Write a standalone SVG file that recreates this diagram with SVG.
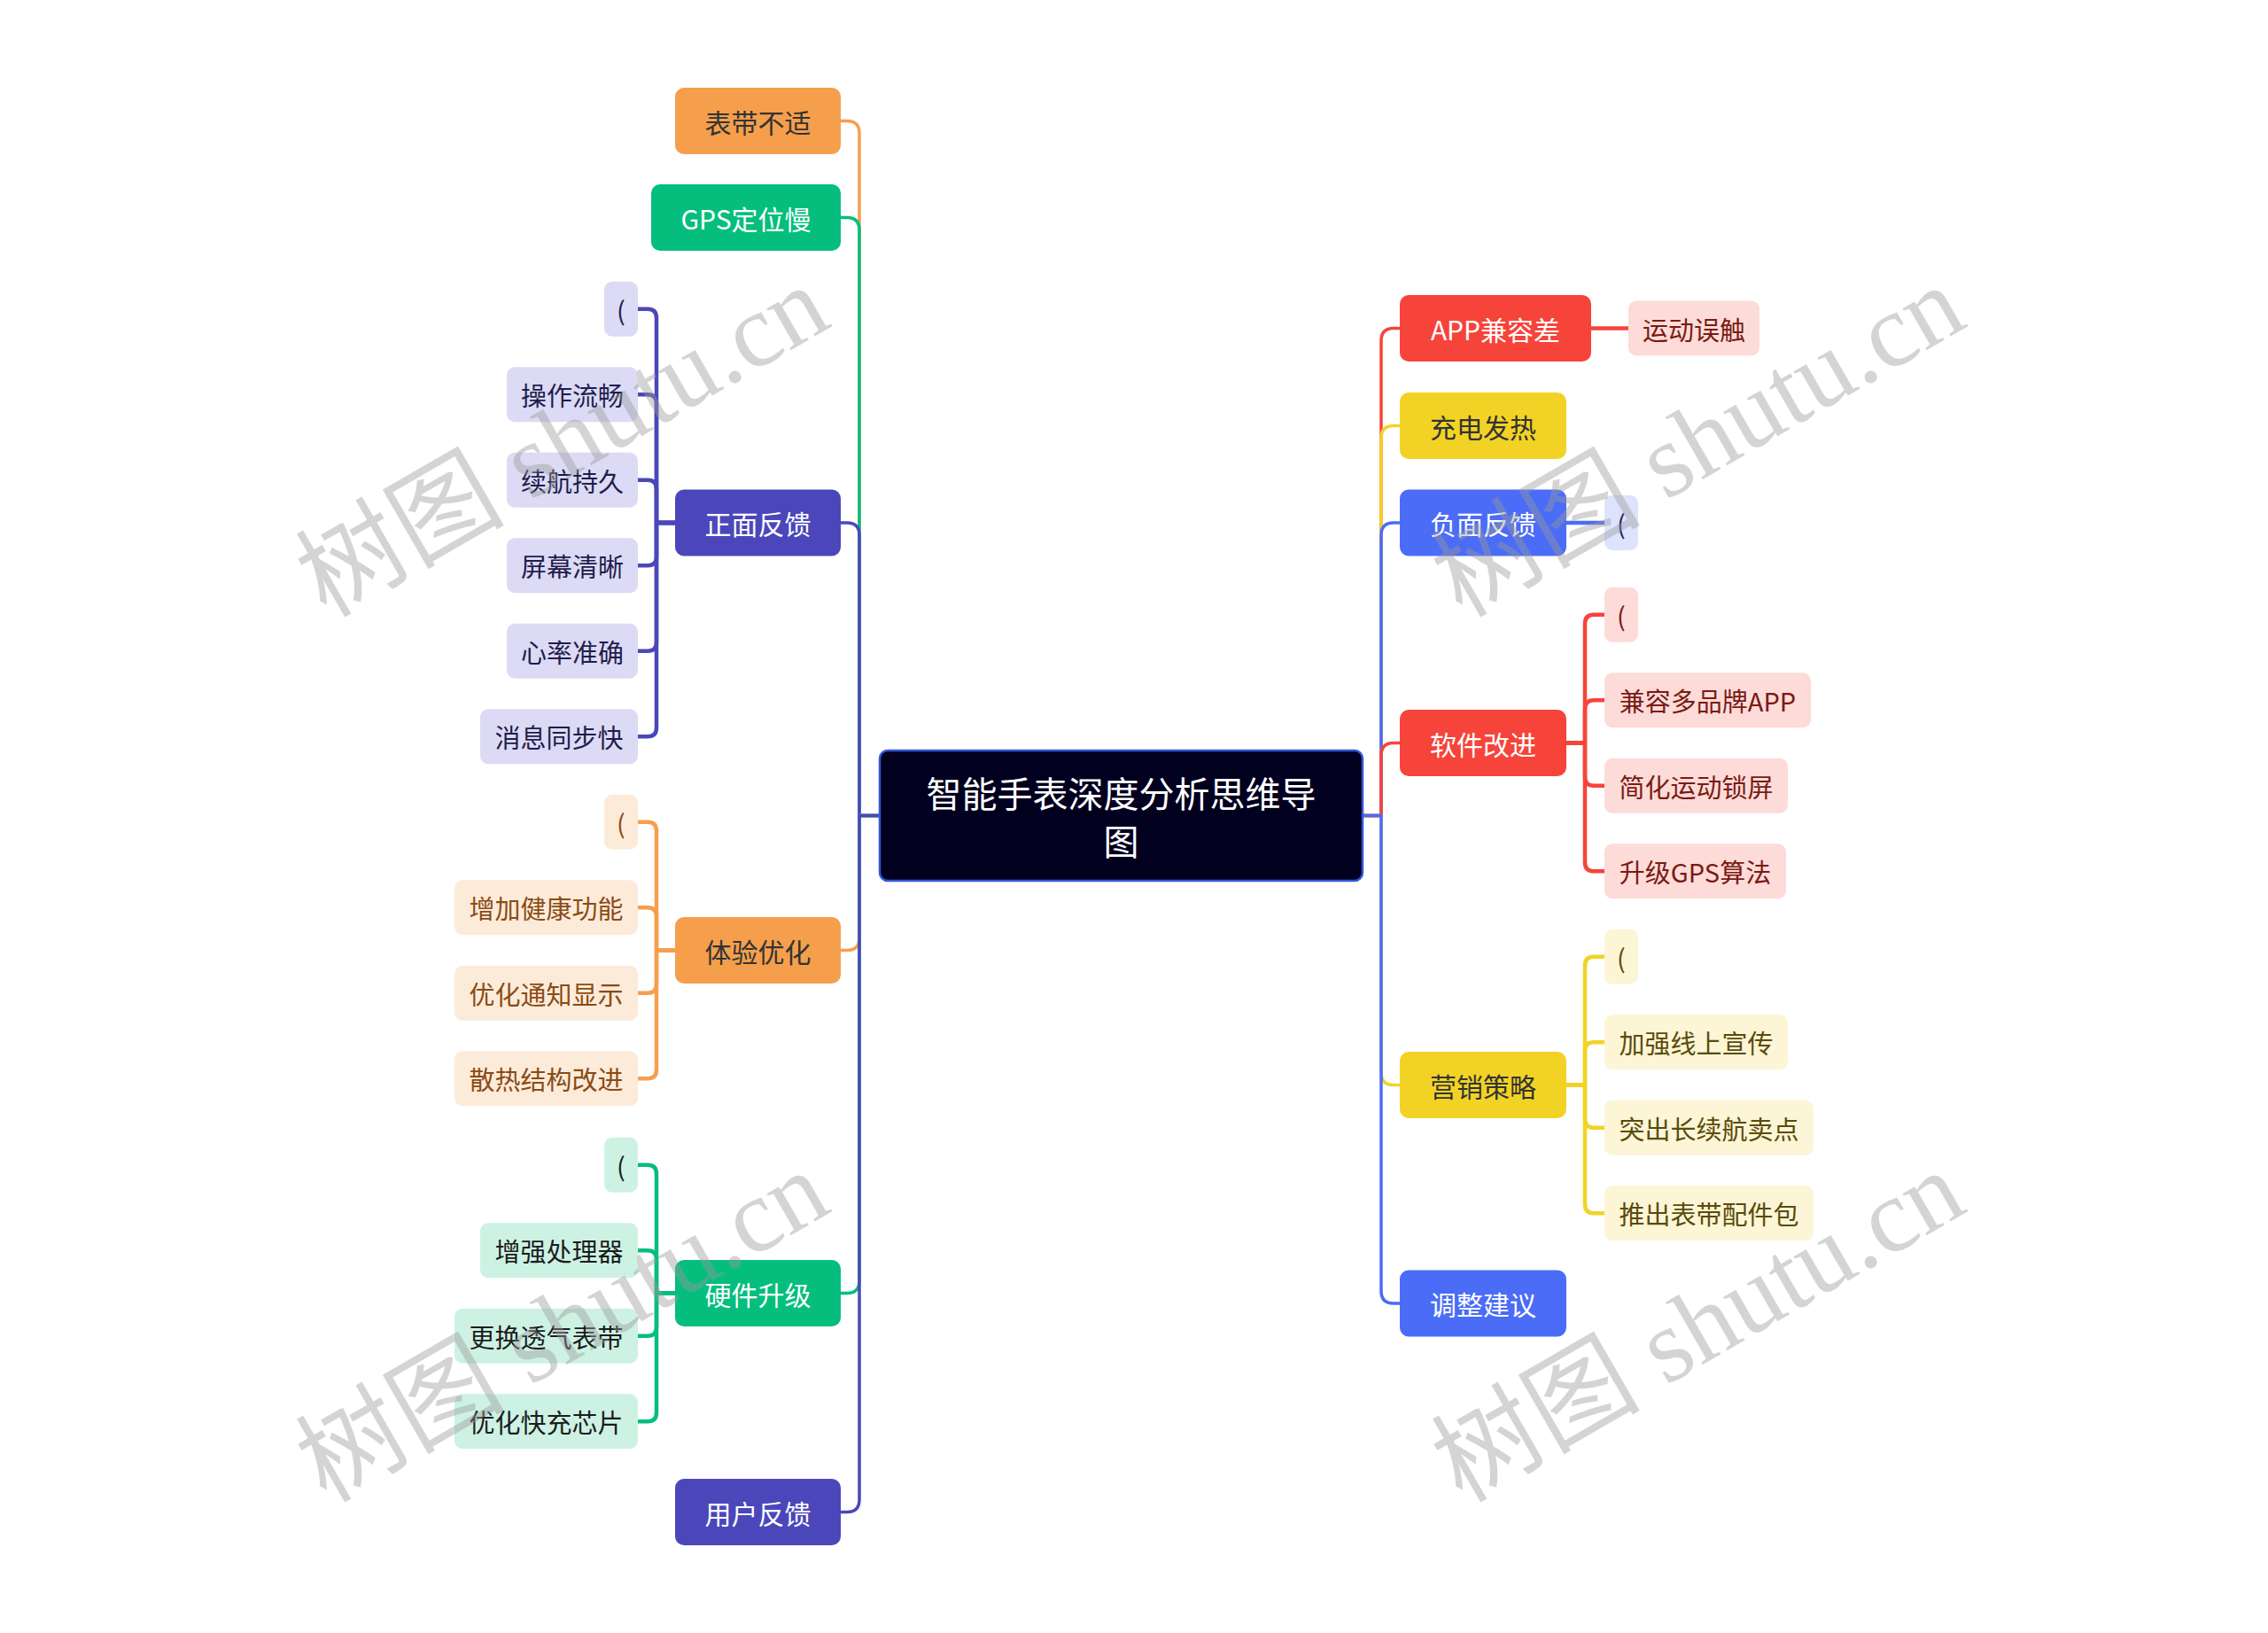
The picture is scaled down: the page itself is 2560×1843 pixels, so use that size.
<svg xmlns="http://www.w3.org/2000/svg" width="2560" height="1843" viewBox="0 0 2560 1843">
<style>
text{font-family:"Noto Sans CJK SC","Noto Sans",sans-serif;dominant-baseline:central;text-anchor:middle}
.t1{font-size:30px}
.t2{font-size:29px}
.tc{font-size:40px;fill:#ffffff}
.w{fill:#ffffff}
.d{fill:#333333}
.c{fill:none;stroke-width:3.5;stroke-linecap:round;stroke-linejoin:round}
.b{fill:none;stroke-width:4.5;stroke-linecap:round;stroke-linejoin:round}
.sO{stroke:#F59F4D}.sG{stroke:#05BE7D}.sP{stroke:#4B47BB}.sR{stroke:#F6443A}.sY{stroke:#F2D325}.sB{stroke:#4A6CF7}
.fO{fill:#F59F4D}.fG{fill:#05BE7D}.fP{fill:#4B47BB}.fR{fill:#F6443A}.fY{fill:#F2D325}.fB{fill:#4A6CF7}
.lO{fill:#FDEBDA}.lG{fill:#CDF2E4}.lP{fill:#DCDAF4}.lR{fill:#FDDBD8}.lY{fill:#FCF5D6}.lB{fill:#DCE3FD}
.xO{fill:#8A4B14}.xG{fill:#1C1C1C}.xP{fill:#1F1D4C}.xR{fill:#7A1A14}.xY{fill:#5A4B0A}.xB{fill:#1F2A5C}
.wm{font-family:"Liberation Serif","Noto Sans CJK SC",serif;font-size:118px;fill:#9a9a9a;opacity:0.42;dominant-baseline:auto;text-anchor:start}
</style>
<rect width="2560" height="1843" fill="#ffffff"/>
<g id="connectors">
<path class="c sO" d="M993,920.5 H970 V150.5 Q970,136.5 956,136.5 H949"/>
<path class="c sG" d="M993,920.5 H970 V259.5 Q970,245.5 956,245.5 H949"/>
<path class="c sP" d="M993,920.5 H970 V604 Q970,590 956,590 H949"/>
<path class="c sO" d="M993,920.5 H970 V1058.5 Q970,1072.5 956,1072.5 H949"/>
<path class="c sG" d="M993,920.5 H970 V1445.5 Q970,1459.5 956,1459.5 H949"/>
<path class="c sP" d="M993,920.5 H970 V1692.5 Q970,1706.5 956,1706.5 H949"/>
<path class="c sR" d="M1538,920.5 H1559 V384.5 Q1559,370.5 1573,370.5 H1580"/>
<path class="c sY" d="M1538,920.5 H1559 V494.5 Q1559,480.5 1573,480.5 H1580"/>
<path class="c sB" d="M1538,920.5 H1559 V604 Q1559,590 1573,590 H1580"/>
<path class="c sR" d="M1538,920.5 H1559 V852.5 Q1559,838.5 1573,838.5 H1580"/>
<path class="c sY" d="M1538,920.5 H1559 V1210.5 Q1559,1224.5 1573,1224.5 H1580"/>
<path class="c sB" d="M1538,920.5 H1559 V1457 Q1559,1471 1573,1471 H1580"/>
<path class="b sP" d="M762,590 H741 V358.75 Q741,348.75 731,348.75 H720"/>
<path class="b sP" d="M762,590 H741 V455.25 Q741,445.25 731,445.25 H720"/>
<path class="b sP" d="M762,590 H741 V551.75 Q741,541.75 731,541.75 H720"/>
<path class="b sP" d="M762,590 H741 V628.25 Q741,638.25 731,638.25 H720"/>
<path class="b sP" d="M762,590 H741 V724.75 Q741,734.75 731,734.75 H720"/>
<path class="b sP" d="M762,590 H741 V821.25 Q741,831.25 731,831.25 H720"/>
<path class="b sO" d="M762,1072.5 H741 V937.75 Q741,927.75 731,927.75 H720"/>
<path class="b sO" d="M762,1072.5 H741 V1034.25 Q741,1024.25 731,1024.25 H720"/>
<path class="b sO" d="M762,1072.5 H741 V1110.75 Q741,1120.75 731,1120.75 H720"/>
<path class="b sO" d="M762,1072.5 H741 V1207.25 Q741,1217.25 731,1217.25 H720"/>
<path class="b sG" d="M762,1459.5 H741 V1324.75 Q741,1314.75 731,1314.75 H720"/>
<path class="b sG" d="M762,1459.5 H741 V1421.25 Q741,1411.25 731,1411.25 H720"/>
<path class="b sG" d="M762,1459.5 H741 V1497.75 Q741,1507.75 731,1507.75 H720"/>
<path class="b sG" d="M762,1459.5 H741 V1594.25 Q741,1604.25 731,1604.25 H720"/>
<path class="b sR" d="M1796,370.5 H1838"/>
<path class="b sB" d="M1768,590 H1811"/>
<path class="b sR" d="M1768,838.5 H1789 V703.75 Q1789,693.75 1799,693.75 H1811"/>
<path class="b sR" d="M1768,838.5 H1789 V800.25 Q1789,790.25 1799,790.25 H1811"/>
<path class="b sR" d="M1768,838.5 H1789 V876.75 Q1789,886.75 1799,886.75 H1811"/>
<path class="b sR" d="M1768,838.5 H1789 V973.25 Q1789,983.25 1799,983.25 H1811"/>
<path class="b sY" d="M1768,1224.5 H1789 V1089.75 Q1789,1079.75 1799,1079.75 H1811"/>
<path class="b sY" d="M1768,1224.5 H1789 V1186.25 Q1789,1176.25 1799,1176.25 H1811"/>
<path class="b sY" d="M1768,1224.5 H1789 V1262.75 Q1789,1272.75 1799,1272.75 H1811"/>
<path class="b sY" d="M1768,1224.5 H1789 V1359.25 Q1789,1369.25 1799,1369.25 H1811"/>
</g>
<g id="root"><rect x="993" y="847" width="545" height="147" rx="9" fill="#02001F" stroke="#3457D8" stroke-width="2.5"/><text class="tc" x="1265.5" y="894">智能手表深度分析思维导</text><text class="tc" x="1265.5" y="948">图</text></g>
<g id="n-biaodaibushi"><rect class="fO" x="762" y="99" width="187" height="75" rx="10"/><text class="t1 d" x="855.5" y="136.5">表带不适</text></g>
<g id="n-gps"><rect class="fG" x="735" y="208" width="214" height="75" rx="10"/><text class="t1 w" x="842" y="245.5">GPS定位慢</text></g>
<g id="n-zhengmian"><rect class="fP" x="762" y="552.5" width="187" height="75" rx="10"/><text class="t1 w" x="855.5" y="590">正面反馈</text></g>
<g id="n-tiyan"><rect class="fO" x="762" y="1035" width="187" height="75" rx="10"/><text class="t1 d" x="855.5" y="1072.5">体验优化</text></g>
<g id="n-yingjian"><rect class="fG" x="762" y="1422" width="187" height="75" rx="10"/><text class="t1 w" x="855.5" y="1459.5">硬件升级</text></g>
<g id="n-yonghu"><rect class="fP" x="762" y="1669" width="187" height="75" rx="10"/><text class="t1 w" x="855.5" y="1706.5">用户反馈</text></g>
<g id="n-zm-0"><rect class="lP" x="682" y="317.75" width="38" height="62" rx="9"/><text class="t2 xP" x="701" y="348.75">(</text></g>
<g id="n-zm-1"><rect class="lP" x="572" y="414.25" width="148" height="62" rx="9"/><text class="t2 xP" x="646" y="445.25">操作流畅</text></g>
<g id="n-zm-2"><rect class="lP" x="572" y="510.75" width="148" height="62" rx="9"/><text class="t2 xP" x="646" y="541.75">续航持久</text></g>
<g id="n-zm-3"><rect class="lP" x="572" y="607.25" width="148" height="62" rx="9"/><text class="t2 xP" x="646" y="638.25">屏幕清晰</text></g>
<g id="n-zm-4"><rect class="lP" x="572" y="703.75" width="148" height="62" rx="9"/><text class="t2 xP" x="646" y="734.75">心率准确</text></g>
<g id="n-zm-5"><rect class="lP" x="542" y="800.25" width="178" height="62" rx="9"/><text class="t2 xP" x="631" y="831.25">消息同步快</text></g>
<g id="n-ty-0"><rect class="lO" x="682" y="896.75" width="38" height="62" rx="9"/><text class="t2 xO" x="701" y="927.75">(</text></g>
<g id="n-ty-1"><rect class="lO" x="513" y="993.25" width="207" height="62" rx="9"/><text class="t2 xO" x="616.5" y="1024.25">增加健康功能</text></g>
<g id="n-ty-2"><rect class="lO" x="513" y="1089.75" width="207" height="62" rx="9"/><text class="t2 xO" x="616.5" y="1120.75">优化通知显示</text></g>
<g id="n-ty-3"><rect class="lO" x="513" y="1186.25" width="207" height="62" rx="9"/><text class="t2 xO" x="616.5" y="1217.25">散热结构改进</text></g>
<g id="n-yj-0"><rect class="lG" x="682" y="1283.75" width="38" height="62" rx="9"/><text class="t2 xG" x="701" y="1314.75">(</text></g>
<g id="n-yj-1"><rect class="lG" x="542" y="1380.25" width="178" height="62" rx="9"/><text class="t2 xG" x="631" y="1411.25">增强处理器</text></g>
<g id="n-yj-2"><rect class="lG" x="513" y="1476.75" width="207" height="62" rx="9"/><text class="t2 xG" x="616.5" y="1507.75">更换透气表带</text></g>
<g id="n-yj-3"><rect class="lG" x="513" y="1573.25" width="207" height="62" rx="9"/><text class="t2 xG" x="616.5" y="1604.25">优化快充芯片</text></g>
<g id="n-app"><rect class="fR" x="1580" y="333" width="216" height="75" rx="10"/><text class="t1 w" x="1688" y="370.5">APP兼容差</text></g>
<g id="n-chongdian"><rect class="fY" x="1580" y="443" width="188" height="75" rx="10"/><text class="t1 d" x="1674" y="480.5">充电发热</text></g>
<g id="n-fumian"><rect class="fB" x="1580" y="552.5" width="188" height="75" rx="10"/><text class="t1 w" x="1674" y="590">负面反馈</text></g>
<g id="n-ruanjian"><rect class="fR" x="1580" y="801" width="188" height="75" rx="10"/><text class="t1 w" x="1674" y="838.5">软件改进</text></g>
<g id="n-yingxiao"><rect class="fY" x="1580" y="1187" width="188" height="75" rx="10"/><text class="t1 d" x="1674" y="1224.5">营销策略</text></g>
<g id="n-tiaozheng"><rect class="fB" x="1580" y="1433.5" width="188" height="75" rx="10"/><text class="t1 w" x="1674" y="1471">调整建议</text></g>
<g id="n-app-0"><rect class="lR" x="1838" y="339.5" width="148" height="62" rx="9"/><text class="t2 xR" x="1912" y="370.5">运动误触</text></g>
<g id="n-fm-0"><rect class="lB" x="1811" y="559" width="38" height="62" rx="9"/><text class="t2 xB" x="1830" y="590">(</text></g>
<g id="n-rj-0"><rect class="lR" x="1811" y="662.75" width="38" height="62" rx="9"/><text class="t2 xR" x="1830" y="693.75">(</text></g>
<g id="n-rj-1"><rect class="lR" x="1811" y="759.25" width="233" height="62" rx="9"/><text class="t2 xR" x="1927.5" y="790.25">兼容多品牌APP</text></g>
<g id="n-rj-2"><rect class="lR" x="1811" y="855.75" width="207" height="62" rx="9"/><text class="t2 xR" x="1914.5" y="886.75">简化运动锁屏</text></g>
<g id="n-rj-3"><rect class="lR" x="1811" y="952.25" width="205" height="62" rx="9"/><text class="t2 xR" x="1913.5" y="983.25">升级GPS算法</text></g>
<g id="n-yx-0"><rect class="lY" x="1811" y="1048.75" width="38" height="62" rx="9"/><text class="t2 xY" x="1830" y="1079.75">(</text></g>
<g id="n-yx-1"><rect class="lY" x="1811" y="1145.25" width="207" height="62" rx="9"/><text class="t2 xY" x="1914.5" y="1176.25">加强线上宣传</text></g>
<g id="n-yx-2"><rect class="lY" x="1811" y="1241.75" width="236" height="62" rx="9"/><text class="t2 xY" x="1929" y="1272.75">突出长续航卖点</text></g>
<g id="n-yx-3"><rect class="lY" x="1811" y="1338.25" width="236" height="62" rx="9"/><text class="t2 xY" x="1929" y="1369.25">推出表带配件包</text></g>
<g id="watermarks">
<text class="wm" transform="translate(368,698) rotate(-30)">树图 shutu.cn</text>
<text class="wm" transform="translate(1650,698) rotate(-30)">树图 shutu.cn</text>
<text class="wm" transform="translate(368,1697) rotate(-30)">树图 shutu.cn</text>
<text class="wm" transform="translate(1650,1697) rotate(-30)">树图 shutu.cn</text>
</g>
</svg>
